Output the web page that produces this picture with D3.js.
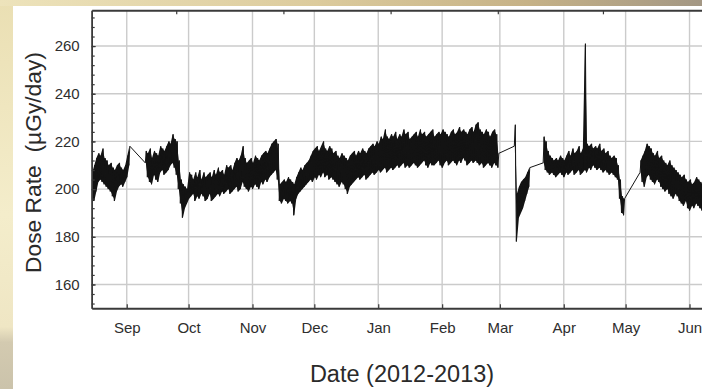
<!DOCTYPE html>
<html>
<head>
<meta charset="utf-8">
<script src="https://cdn.jsdelivr.net/npm/d3@7"></script>
<style>
  html, body { margin: 0; padding: 0; background: #fff; overflow: hidden; }
  text { font-family: "Liberation Sans", Arial, Helvetica, sans-serif; }
</style>
</head>
<body>
<svg id="chart" width="702" height="389"></svg>
<script>
// Daily dose-rate readings (µGy/day): the low and high of each day's samples.
// null marks days with no data; the trace is joined straight across those gaps.
const firstDay = "2012-08-15";
const dailyLow = [
  196,195,199,203,204,203,202,201,200,199,197,195,199,201,202,201,203,205,210,
  null,null,null,null,null,null,null,
  211,205,203,202,206,204,203,207,208,206,
  207,208,210,211,209,206,200,194,188,192,
  194,196,197,198,195,197,196,198,197,195,
  196,198,195,196,197,198,197,199,198,199,
  200,198,199,200,201,199,200,203,201,200,
  199,201,200,202,201,200,203,202,204,203,
  205,206,207,208,204,195,194,196,195,194,
  195,194,189,196,198,199,200,201,202,203,
  204,203,205,204,206,205,207,205,206,204,
  205,204,203,202,201,203,202,200,198,201,
  202,203,204,205,204,205,206,204,205,206,
  207,206,207,208,207,208,209,207,208,209,
  208,209,210,209,210,211,209,210,209,210,
  211,210,209,210,211,212,210,209,211,210,
  210,211,212,210,209,211,212,210,211,212,
  211,210,212,211,213,212,210,211,212,211,
  212,211,210,211,209,210,211,210,209,211,210,209,
  null,null,null,null,null,null,null,
  218,178,188,190,192,195,198,201,
  null,null,null,null,null,null,
  211,208,207,206,207,206,205,206,207,206,
  205,207,206,207,208,206,207,208,206,207,
  208,207,209,208,210,209,208,209,208,207,
  208,207,206,207,206,205,204,196,190,189,
  null,null,null,null,null,null,null,
  207,203,201,205,206,204,203,202,204,203,
  201,200,199,200,198,197,196,198,197,195,
  194,193,195,192,191,193,192,194,193,192,
  191,192
];
const dailyHigh = [
  207,210,213,215,214,217,213,212,210,211,209,208,210,211,209,208,210,214,218,
  null,null,null,null,null,null,null,
  216,215,217,213,216,215,214,218,217,216,
  218,220,219,223,221,220,212,204,202,201,
  200,207,206,204,207,205,208,204,207,205,
  206,207,205,208,206,209,207,208,206,210,
  209,210,208,211,213,212,214,218,213,211,
  212,213,211,214,213,212,214,215,216,215,
  217,219,220,221,219,202,203,204,203,205,
  204,203,202,205,207,209,208,210,211,212,
  214,216,217,218,216,218,220,217,216,218,
  217,215,216,214,213,215,214,213,212,214,
  215,216,214,216,215,217,216,215,217,218,
  219,218,220,219,222,221,225,222,221,223,
  222,224,221,223,222,225,223,224,221,222,
  223,224,222,225,223,224,222,223,224,225,
  222,223,224,223,225,224,223,222,224,225,
  223,224,226,224,225,224,223,225,226,224,
  227,228,225,224,223,225,224,222,224,225,223,215,
  null,null,null,null,null,null,null,
  227,198,201,203,204,205,207,209,
  null,null,null,null,null,null,
  222,220,216,214,213,212,213,212,214,213,
  212,214,216,214,217,215,216,218,215,217,
  261,219,218,219,217,218,217,219,216,217,
  215,216,214,213,214,213,210,204,197,196,
  null,null,null,null,null,null,null,
  212,214,216,219,218,217,215,214,216,213,
  214,212,211,210,212,210,209,208,207,206,
  205,206,204,203,204,202,203,205,204,203,
  202,203
];

const monthTicks  = ["2012-09-01","2012-10-01","2012-11-01","2012-12-01","2013-01-01",
                     "2013-02-01","2013-03-01","2013-04-01","2013-05-01","2013-06-01"];
const monthLabels = ["Sep","Oct","Nov","Dec","Jan","Feb","Mar","Apr","May","Jun"];
const topTicks    = ["2012-09-25","2012-11-16","2013-01-07","2013-02-28","2013-04-20"];
const yTicks      = [160, 180, 200, 220, 240, 260];
const yMinorStep  = 4;
const xDomain     = ["2012-08-15", "2013-06-30"];
const yDomain     = [150, 275];
const xTitle      = "Date (2012-2013)";
const yTitle      = "Dose Rate  (\u00B5Gy/day)";

const W = 702, H = 389;
const plot = { left: 91.7, top: 10.3, bottom: 308.3, right: 749.3 };

const svg = d3.select("#chart");
const defs = svg.append("defs");

// Slide backdrop behind the chart panel
const gTop = defs.append("linearGradient").attr("id", "bgTop");
[["0%","#ede3bb"],["45%","#dccb9d"],["75%","#c6b287"],["100%","#a39784"]]
  .forEach(([o,c]) => gTop.append("stop").attr("offset", o).attr("stop-color", c));
const gLeft = defs.append("linearGradient").attr("id", "bgLeft")
  .attr("x1", 0).attr("y1", 0).attr("x2", 0).attr("y2", 1);
[["0%","#eadfb3"],["55%","#f4edcb"],["84%","#efe6c4"],["88%","#d3cab0"],["100%","#cbc3ab"]]
  .forEach(([o,c]) => gLeft.append("stop").attr("offset", o).attr("stop-color", c));

svg.append("rect").attr("width", W).attr("height", H).attr("fill", "url(#bgLeft)");
svg.append("rect").attr("width", W).attr("height", 6).attr("fill", "url(#bgTop)");
svg.append("rect").attr("x", 13).attr("y", 6).attr("width", W - 13).attr("height", H - 6).attr("fill", "#fff");

const parse = s => new Date(s + "T00:00:00Z");
const x = d3.scaleUtc().domain(xDomain.map(parse)).range([plot.left, plot.right]);
const y = d3.scaleLinear().domain(yDomain).range([plot.bottom, plot.top]);

defs.append("clipPath").attr("id", "plotClip").append("rect")
  .attr("x", plot.left).attr("y", plot.top)
  .attr("width", plot.right - plot.left).attr("height", plot.bottom - plot.top);

// Grid
const grid = svg.append("g").attr("stroke", "#cbcbcb").attr("stroke-width", 1.4);
grid.selectAll("line.v").data(monthTicks.map(parse)).join("line")
  .attr("x1", d => x(d)).attr("x2", d => x(d))
  .attr("y1", plot.top).attr("y2", plot.bottom);
grid.selectAll("line.h").data(yTicks).join("line")
  .attr("x1", plot.left).attr("x2", plot.right)
  .attr("y1", d => y(d)).attr("y2", d => y(d));

// Daily records
const dayMs = 864e5;
const t0 = parse(firstDay).getTime();
const days = dailyLow.map((lo, i) => ({ t: t0 + i * dayMs, lo, hi: dailyHigh[i] }));

const trace = svg.append("g").attr("clip-path", "url(#plotClip)");

// Filled band between each day's low and high
trace.append("path")
  .attr("d", d3.area()
    .defined(d => d.lo != null)
    .x(d => x(new Date(d.t + dayMs / 4)))
    .y0(d => y(d.lo)).y1(d => y(d.hi))(days))
  .attr("fill", "#141414");

// Trace: each day goes from its low to its high sample; gaps are bridged
const pts = [];
days.forEach(d => {
  if (d.lo == null) return;
  pts.push([new Date(d.t), d.lo]);
  pts.push([new Date(d.t + dayMs / 2), d.hi]);
});
trace.append("path")
  .attr("d", d3.line().x(p => x(p[0])).y(p => y(p[1]))(pts))
  .attr("fill", "none").attr("stroke", "#141414").attr("stroke-width", 1);

// Axes
const axisColor = "#3a3a3a";
const yAxis = d3.axisLeft(y).tickValues(yTicks).tickSize(-4).tickPadding(12).tickSizeOuter(0);
const yMinor = d3.axisLeft(y).tickValues(d3.range(152, 275, yMinorStep)).tickSize(-3).tickFormat("").tickSizeOuter(0);
const xAxis = d3.axisBottom(x).tickValues(monthTicks.map(parse))
  .tickFormat((d, i) => monthLabels[i]).tickSize(-4).tickPadding(14).tickSizeOuter(0);
const xTop = d3.axisTop(x).tickValues(topTicks.map(parse)).tickSize(-4).tickFormat("").tickSizeOuter(0);

function styleAxis(g, w) {
  g.select(".domain").attr("stroke", axisColor).attr("stroke-width", w);
  g.selectAll(".tick line").attr("stroke", axisColor).attr("stroke-width", 1.2);
  g.selectAll(".tick text").attr("fill", "#2e2e2e").attr("font-size", 15)
    .attr("font-family", "Liberation Sans, Arial, sans-serif");
}
svg.append("g").attr("transform", `translate(${plot.left},0)`).call(yMinor).call(g => styleAxis(g, 1.5));
svg.append("g").attr("transform", `translate(${plot.left},0)`).call(yAxis).call(g => styleAxis(g, 1.5));
svg.append("g").attr("transform", `translate(0,${plot.bottom})`).call(xAxis).call(g => styleAxis(g, 2));
svg.append("g").attr("transform", `translate(0,${plot.top})`).call(xTop).call(g => styleAxis(g, 2));

// Titles
svg.append("text")
  .attr("transform", `translate(40.5,162.5) rotate(-90)`)
  .attr("text-anchor", "middle").attr("font-size", 22.8).attr("fill", "#2a2a2a")
  .attr("xml:space", "preserve")
  .text(yTitle);
svg.append("text")
  .attr("x", 402).attr("y", 382)
  .attr("text-anchor", "middle").attr("font-size", 23.5).attr("fill", "#2a2a2a")
  .text(xTitle);
</script>
</body>
</html>
